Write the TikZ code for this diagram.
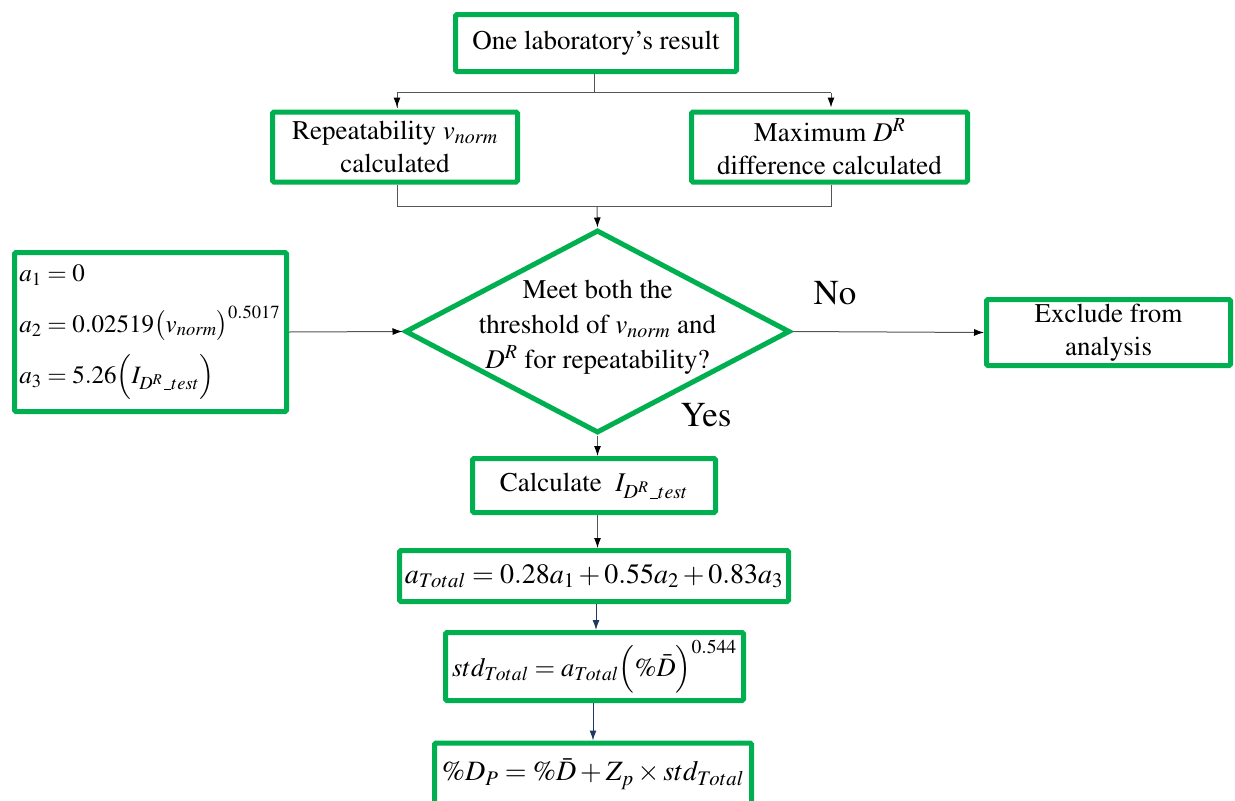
\documentclass[tikz,border=0pt]{standalone}
\usepackage[OT1]{fontenc}
\usepackage{mathptmx}
\usetikzlibrary{shapes.geometric,arrows.meta}
\definecolor{boxgreen}{RGB}{0,176,80}
\definecolor{linegray}{RGB}{85,85,85}
\definecolor{navyline}{RGB}{31,56,100}

\tikzset{
  box/.style={draw=boxgreen, line width=5pt, rounded corners=1.5pt, fill=white,
    align=center, inner sep=0pt, font=\fontsize{27}{33}\selectfont},
  decision/.style={draw=boxgreen, line width=5pt, diamond, inner sep=0pt, fill=white},
  plain/.style={align=center, inner sep=0pt, font=\fontsize{27}{35}\selectfont},
  answer/.style={inner sep=0pt, font=\fontsize{35}{40}\selectfont},
  link/.style={draw=linegray, line width=1pt},
  arr/.style={link, -{Latex[length=10pt,width=7pt,color=black]}},
  navyarr/.style={draw=navyline, line width=1pt, -{Latex[length=10pt,width=7pt]}}
}

\begin{document}
\begin{tikzpicture}[x=1pt,y=-1pt]
\useasboundingbox (0,0) rectangle (1235,801);

% boxes
\node[box, minimum width=281pt, minimum height=57pt] (lab) at (596,43) {One laboratory's result};
\node[box, minimum width=245pt, minimum height=70pt] (rep) at (395,147)
  {Repeatability $v_{norm}$\\calculated};
\node[box, minimum width=276pt, minimum height=70pt] (maxd) at (829.5,147)
  {Maximum $D^R$\\difference calculated};

% decision
\node[decision, minimum width=385pt, minimum height=203pt] (dec) at (597.5,331.5) {};
\node[plain] (dectext) at (597.5,327)
  {Meet both the\\threshold of $v_{norm}$ and\\$D^R$ for repeatability?};

% coefficients
\node[box, minimum width=272pt, minimum height=159pt, text width=262pt, align=left,
  font=\fontsize{25}{51}\selectfont] (coef) at (150.5,332)
  {$a_1=0$\\
   $a_2=0.02519\bigl(v_{norm}\bigr)^{0.5017}$\\
   $a_3=5.26\Bigl(I_{D^R\_test}\Bigr)$};

\node[box, minimum width=244pt, minimum height=66pt] (excl) at (1108.5,332.5)
  {Exclude from\\analysis};

\node[box, minimum width=243pt, minimum height=54pt] (calc) at (594,485.5)
  {Calculate \ $I_{D^R\_test}$};
\node[box, minimum width=389pt, minimum height=51pt, font=\fontsize{28}{34}\selectfont] (atot) at (594,576)
  {$a_{Total}=0.28a_1+0.55a_2+0.83a_3$};
\node[box, minimum width=298pt, minimum height=68pt, font=\fontsize{26.5}{34}\selectfont] (std) at (594.5,666.5)
  {$std_{Total}=a_{Total}\Bigl(\%\bar{D}\Bigr)^{0.544}$};
\node[box, minimum width=317pt, minimum height=62pt, font=\fontsize{28}{34}\selectfont] (dp) at (593,774)
  {$\%D_P=\%\bar{D}+Z_p\times std_{Total}$};

% answers
\node[answer] (no) at (835,293) {No};
\node[answer] (yes) at (706,415) {Yes};

% split and merge points
\coordinate (split) at (594.5,92.5);
\coordinate (merge) at (597,206.5);

\draw[link] (lab.south -| split) -- (split);
\draw[link] (split) -| (397,108);
\draw[arr] (397,92.5) -- (397,107.5);
\draw[link] (split) -| (831,92.5);
\draw[arr] (831,92.5) -- (831,107.5);
\draw[link] (rep.south -| 397,0) |- (merge);
\draw[link] (maxd.south -| 831,0) |- (merge);
\draw[arr] (merge) -- (dec.north);

\draw[arr] (coef.east) -- (dec.west);
\draw[arr] (dec.east) -- (excl.west);
\draw[arr] (dec.south) -- (calc.north -| dec.south);
\draw[arr] (calc.south -| dec.south) -- (atot.north -| dec.south);
\draw[navyarr] (atot.south -| 596,0) -- (std.north -| 596,0);
\draw[navyarr] (std.south -| 593,0) -- (dp.north -| 593,0);
\end{tikzpicture}
\end{document}
